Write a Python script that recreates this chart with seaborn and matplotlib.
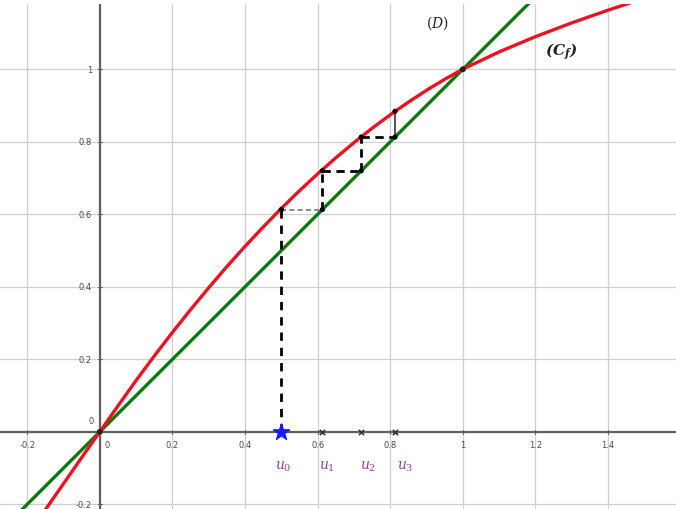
import numpy as np
import pandas as pd
import matplotlib
matplotlib.use("Agg")
import matplotlib.pyplot as plt
import seaborn as sns

# curve (C_f)
cf_x = [-0.20, -0.15, -0.10, -0.05, 0.0, 0.05, 0.1, 0.15, 0.2, 0.25, 0.3, 0.35, 0.4, 0.45, 0.5,
        0.55, 0.6, 0.65, 0.7, 0.75, 0.8, 0.85, 0.9, 0.95, 1.0, 1.1, 1.2, 1.3, 1.4, 1.5]
cf_y = [-0.288, -0.215, -0.143, -0.071, 0.0, 0.0715, 0.1418, 0.2092, 0.2743, 0.3370, 0.3975,
        0.4557, 0.5115, 0.5650, 0.6162, 0.6651, 0.7116, 0.7558, 0.7977, 0.8373, 0.8745,
        0.9094, 0.9421, 0.9724, 1.0004, 1.048, 1.090, 1.128, 1.163, 1.196]

# line (D): y = x
d_x = [-0.3, 1.7]
d_y = [-0.3, 1.7]

# sequence terms u0..u3 and f(u3)
u_vals = [0.5, 0.613, 0.72, 0.813]
f_last = 0.884
u_names = ["$u_0$", "$u_1$", "$u_2$", "$u_3$"]

x_ticks = [-0.2, 0.2, 0.4, 0.6, 0.8, 1, 1.2, 1.4, 1.6]
y_ticks = [-0.2, 0.2, 0.4, 0.6, 0.8, 1]

sns.set_style("white")
plt.rcParams["mathtext.fontset"] = "custom"
plt.rcParams["mathtext.rm"] = "DejaVu Serif"
plt.rcParams["mathtext.it"] = "DejaVu Serif:italic"
plt.rcParams["mathtext.bf"] = "DejaVu Serif:italic:bold"

fig = plt.figure(figsize=(6.76, 5.10), dpi=100)
ax = fig.add_axes([0, 0, 1, 1 - 5 / 510])
ax.set_xlim(-0.275, 1.587)
ax.set_ylim(-0.213, 1.18)
for s in ax.spines.values():
    s.set_visible(False)
ax.set_xticks([])
ax.set_yticks([])

# grid
for g in np.arange(-0.2, 1.61, 0.2):
    ax.axvline(g, color="#cfcfcf", lw=0.9, zorder=0)
for g in np.arange(-0.2, 1.21, 0.2):
    ax.axhline(g, color="#cfcfcf", lw=0.9, zorder=0)
ax.axhline(0, color="#606060", lw=1.6, zorder=1)
ax.axvline(0, color="#606060", lw=1.6, zorder=1)

# tick labels
for t in x_ticks:
    ax.text(t, -0.022, f"{t:g}", ha="center", va="top", fontsize=6, color="#4a4a4a")
    ax.plot([t, t], [-0.005, 0.005], color="#606060", lw=0.8)
for t in y_ticks:
    ax.text(-0.022, t, f"{t:g}", ha="right", va="center", fontsize=6, color="#4a4a4a")
    ax.plot([-0.005, 0.005], [t, t], color="#606060", lw=0.8)
ax.text(-0.018, 0.018, "0", ha="right", va="bottom", fontsize=6, color="#4a4a4a")
ax.text(0.012, -0.022, "0", ha="left", va="top", fontsize=6, color="#4a4a4a")

# curves
sns.lineplot(x=d_x, y=d_y, ax=ax, color="#0b7a0b", lw=2.4, zorder=3)
sns.lineplot(x=cf_x, y=cf_y, ax=ax, color="#ee1122", lw=2.4, zorder=4)

# cobweb
ax.plot([u_vals[0], u_vals[0]], [0, u_vals[1]], color="black", lw=2, ls=(0, (3, 2.5)), zorder=5)
ax.plot([u_vals[0], u_vals[1]], [u_vals[1], u_vals[1]], color="#777777", lw=1.2, ls=(0, (3, 2)), zorder=5)
corners_x, corners_y = [u_vals[0]], [u_vals[1]]
for i in range(1, len(u_vals)):
    nxt = u_vals[i + 1] if i + 1 < len(u_vals) else f_last
    if i + 1 < len(u_vals):
        ax.plot([u_vals[i], u_vals[i]], [u_vals[i], nxt], color="black", lw=2, ls=(0, (3, 2)), zorder=5)
        ax.plot([u_vals[i], nxt], [nxt, nxt], color="black", lw=2, ls=(0, (3, 2)), zorder=5)
    else:
        ax.plot([u_vals[i], u_vals[i]], [u_vals[i], nxt], color="#444444", lw=1.3, zorder=5)
    corners_x += [u_vals[i], u_vals[i]]
    corners_y += [u_vals[i], nxt]
sns.scatterplot(x=corners_x, y=corners_y, ax=ax, color="black", s=14, zorder=6, edgecolor="none")
sns.scatterplot(x=[0, 1], y=[0, 1], ax=ax, color="#222222", s=18, zorder=6, edgecolor="none")

# points on the x axis
sns.scatterplot(x=u_vals[1:], y=[0] * 3, ax=ax, marker="x", color="#333333", s=14, linewidth=1.2, zorder=6)
sns.scatterplot(x=[u_vals[0]], y=[0], ax=ax, marker="*", color="#1a1aff", s=150, edgecolor="#1a1aff", zorder=7)

label_x = [0.505, 0.625, 0.74, 0.84]
for lx, name in zip(label_x, u_names):
    ax.text(lx, -0.095, name, ha="center", va="center", fontsize=10, color="#9b3f9b")

ax.text(0.93, 1.13, "$(D)$", ha="center", va="center", fontsize=10, color="#222222")
ax.text(1.27, 1.05, r"$\mathbf{(C_f)}$", ha="center", va="center", fontsize=11, color="#222222")

fig.savefig("out.png", dpi=100)
